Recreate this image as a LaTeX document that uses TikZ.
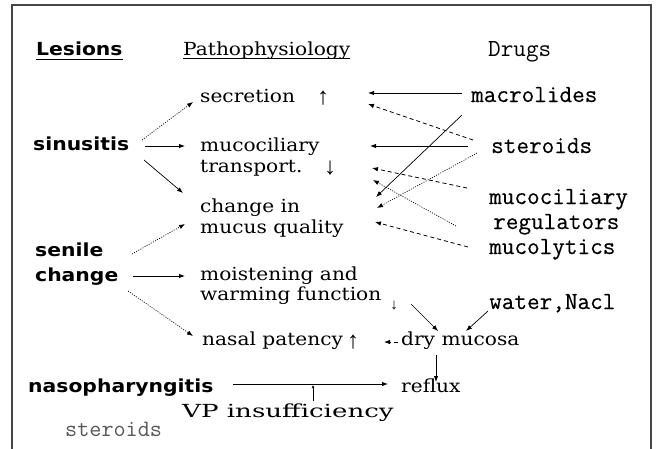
\documentclass[tikz,border=0pt]{standalone}
\usepackage{fontspec}
\usetikzlibrary{arrows.meta}
\newfontfamily\lesionfont{DejaVu Sans}[FakeStretch=1.13]
\newfontfamily\pathofont{DejaVu Serif}[FakeStretch=1.12]
\newfontfamily\pathowide{DejaVu Serif}[FakeStretch=1.45]
\newfontfamily\drugfont{Latin Modern Mono}[FakeBold=0.3]
\newfontfamily\lightdrugfont{Latin Modern Mono}
\newfontfamily\updownfont{Liberation Serif}
\definecolor{framegray}{RGB}{70,70,70}

\tikzset{
  lesion/.style={font=\lesionfont\bfseries\fontsize{18}{18}\selectfont, anchor=base west, inner sep=0pt},
  patho/.style={font=\pathofont\fontsize{18}{20}\selectfont, anchor=base west, inner sep=0pt},
  drug/.style={font=\drugfont\fontsize{24.5}{25}\selectfont, anchor=base west, inner sep=0pt},
  updown/.style={font=\updownfont\fontsize{24}{24}\selectfont, anchor=base, inner sep=0pt},
  link/.style={-{Latex[length=6pt,width=4.5pt]}, line width=0.9pt},
  dotlink/.style={link, line width=0.7pt, dash pattern=on 1pt off 1.4pt},
  dashlink/.style={link, line width=0.8pt, dash pattern=on 4pt off 3pt}
}

\begin{document}
\begin{tikzpicture}[x=1pt,y=-1pt]
  \useasboundingbox (0,0) rectangle (656,448);
  \fill[white] (0,0) rectangle (656,448);
  % frame
  \draw[line width=1.2pt, framegray] (12,452) -- (12,5) -- (651,5) -- (651,452);

  % column heads
  \node[lesion] (hLes) at (36,55) {Lesions};
  \node[patho] (hPat) at (183,55) {Pathophysiology};
  \node[drug, font=\lightdrugfont\fontsize{24.5}{25}\selectfont] (hDrg) at (488,56) {Drugs};
  \draw[line width=1pt] ([yshift=-4pt]hLes.base west) -- ([yshift=-4pt]hLes.base east);
  \draw[line width=0.8pt] ([yshift=-3pt]hPat.base west) -- ([yshift=-3pt]hPat.base east);

  % lesions
  \node[lesion] (sinus)  at (33,150) {sinusitis};
  \node[lesion] (senile) at (35,256) {senile};
  \node[lesion] (chg)    at (35,281) {change};
  \node[lesion] (naso)   at (28,392) {nasopharyngitis};
  \node[drug, black!65, font=\lightdrugfont\fontsize{23.5}{24}\selectfont] (bSter) at (65,436) {steroids};

  % pathophysiology
  \node[patho] (secr)    at (200,102) {secretion};
  \node[updown] (secrUp) at (323,104) {↑};
  \node[patho] (mucoc)   at (200,151) {mucociliary};
  \node[patho] (transp)  at (200,172) {transport.};
  \node[updown] (trDown) at (330,174) {↓};
  \node[patho] (change)  at (200,212) {change in};
  \node[patho] (quality) at (200,233) {mucus quality};
  \node[patho] (moist)   at (200,280) {moistening and};
  \node[patho] (warm)    at (200,300) {warming function};
  \node[updown, font=\updownfont\fontsize{15}{15}\selectfont] (wDown) at (394,309) {↓};
  \node[patho] (nasal)   at (202,345) {nasal patency};
  \node[updown] (naUp)   at (353,348) {↑};
  \node[patho] (dry)     at (401,345) {dry mucosa};
  \node[patho] (reflux)  at (401,392) {reflux};
  \node[font=\pathowide\fontsize{18}{20}\selectfont, anchor=base west, inner sep=0pt] (vp) at (182,417) {VP insufficiency};

  % drugs
  \node[drug] (macro) at (471,102) {macrolides};
  \node[drug] (ster)  at (491,153) {steroids};
  \node[drug] (mucil) at (489,204) {mucociliary};
  \node[drug] (regul) at (493,229) {regulators};
  \node[drug] (mucol) at (489,254) {mucolytics};
  \node[drug] (water) at (489,309) {water,Nacl};

  % lesions -> pathophysiology
  \draw[dotlink] ([shift={(109,-10)}]sinus.base west) -- ([shift={(-7,0)}]secr.base west);
  \draw[link] ([shift={(112,-4)}]sinus.base west) -- ([shift={(-15,-5)}]mucoc.base west);
  \draw[link, line width=0.7pt] ([shift={(111,10)}]sinus.base west) -- ([shift={(-17,-19)}]change.base west);
  \draw[dotlink] ([shift={(97,-2)}]senile.base west) -- ([shift={(-15,-9)}]quality.base west);
  \draw[link] ([shift={(98,-5)}]chg.base west) -- ([shift={(-15,-4)}]moist.base west);
  \draw[dotlink] ([shift={(93,10)}]chg.base west) -- ([shift={(-9,-9)}]nasal.base west);
  \draw[link] ([shift={(205,-8)}]naso.base west) -- ([shift={(-13,-8)}]reflux.base west);
  \draw[-{Latex[length=3pt,width=3pt]}, line width=0.7pt] ([shift={(131,-16)}]vp.base west) -- ([shift={(131,-32)}]vp.base west);

  % dry mucosa
  \draw[link, line width=0.7pt] ([shift={(211,4)}]warm.base west) -- ([shift={(37,-14)}]dry.base west);
  \draw[link, line width=0.7pt] ([shift={(-1,2)}]water.base west) -- ([shift={(65,-14)}]dry.base west);
  \draw[link] ([shift={(35,10)}]dry.base west) -- ([shift={(35,-10)}]reflux.base west);
  \draw[dashlink] ([shift={(-3,-3)}]dry.base west) -- ([shift={(182,-3)}]nasal.base west);

  % drugs -> pathophysiology
  \draw[link] ([shift={(-9,-9)}]macro.base west) -- ([shift={(168,-9)}]secr.base west);
  \draw[link, line width=0.7pt] ([shift={(-9,13)}]macro.base west) -- ([shift={(176,-15)}]change.base west);
  \draw[dashlink] ([shift={(-18,-13)}]ster.base west) -- ([shift={(168,2)}]secr.base west);
  \draw[link] ([shift={(-23,-7)}]ster.base west) -- ([shift={(170,-5)}]mucoc.base west);
  \draw[dotlink] ([shift={(-14,0)}]ster.base west) -- ([shift={(177,-4)}]change.base west);
  \draw[dashlink] ([shift={(-22,-16)}]mucil.base west) -- ([shift={(172,-4)}]transp.base west);
  \draw[dotlink] ([shift={(-37,-3)}]regul.base west) -- ([shift={(173,8)}]transp.base west);
  \draw[dashlink] ([shift={(-21,-7)}]mucol.base west) -- ([shift={(175,-11)}]quality.base west);
\end{tikzpicture}
\end{document}
